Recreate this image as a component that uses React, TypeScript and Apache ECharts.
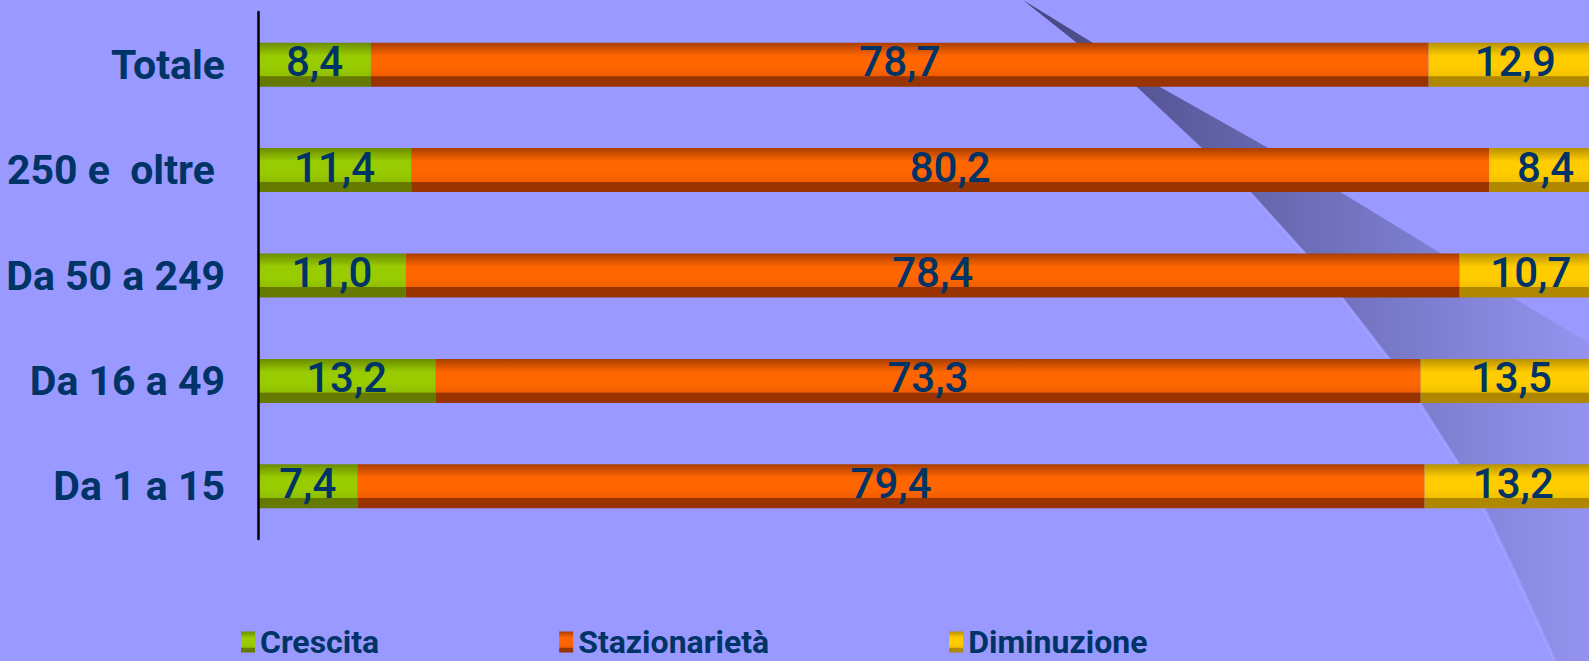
import React, { useEffect, useRef } from "react";
import * as echarts from "echarts";

const categories = ["Totale", "250 e  oltre ", "Da 50 a 249", "Da 16 a 49", "Da 1 a 15"];
const seriesNames = ["Crescita", "Stazionarietà", "Diminuzione"];
const crescita = [8.4, 11.4, 11.0, 13.2, 7.4];
const stazionarieta = [78.7, 80.2, 78.4, 73.3, 79.4];
const diminuzione = [12.9, 8.4, 10.7, 13.5, 13.2];

const FONT = "Roboto, 'Liberation Sans', sans-serif";
const NAVY = "#003366";

const swooshLeft = [
  [1023, 0], [1077, 43], [1137, 87], [1203, 149], [1252, 193], [1307, 254],
  [1342, 296], [1390, 358], [1420, 401], [1460, 464], [1485, 507], [1520, 580], [1557, 661],
];
const swooshRight = [
  [1023, 0], [1093, 43], [1160, 87], [1270, 149], [1342, 193], [1442, 254],
  [1510, 296], [1589, 343],
];

function barGradient(top: string, bright: string, mid: string, strip: string) {
  return new echarts.graphic.LinearGradient(0, 0, 0, 1, [
    { offset: 0, color: top },
    { offset: 0.3, color: bright },
    { offset: 0.55, color: bright },
    { offset: 0.76, color: mid },
    { offset: 0.77, color: strip },
    { offset: 1, color: strip },
  ]);
}

export default function App() {
  const ref = useRef<HTMLDivElement>(null);
  useEffect(() => {
    if (!ref.current) return;
    const chart = echarts.init(ref.current, null, { renderer: "svg" });
    const fmt = (p: any) => Number(p.value).toFixed(1).replace(".", ",");
    const label = {
      show: true,
      position: "inside",
      formatter: fmt,
      color: NAVY,
      fontSize: 42,
      fontWeight: 500,
      fontFamily: FONT,
      offset: [0, -3],
    };
    const colors = [
      barGradient("#6b8c00", "#99cc00", "#8fbf00", "#667a00"),
      barGradient("#a83e00", "#ff6600", "#f05e00", "#993300"),
      barGradient("#b89200", "#ffcc00", "#f2c200", "#b08800"),
    ];
    const dataSets = [crescita, stazionarieta, diminuzione];
    const swooshPoly = [
      ...swooshRight,
      [1589, 661],
      ...swooshLeft.slice().reverse(),
    ];
    const highlight = swooshLeft.map(([x, y]) => [x - 3, y]);
    chart.setOption({
      animation: false,
      backgroundColor: "#9999ff",
      graphic: [
        {
          type: "polygon",
          silent: true,
          z: -10,
          shape: { points: swooshPoly },
          style: {
            fill: new echarts.graphic.LinearGradient(0, 0, 1, 0, [
              { offset: 0, color: "#45457f" },
              { offset: 1, color: "#9494f0" },
            ]),
          },
        },
        {
          type: "polyline",
          silent: true,
          z: -9,
          shape: { points: highlight.slice(3) },
          style: { stroke: "#a9a9ff", lineWidth: 1, fill: null },
        },
      ],
      grid: {
        left: 258,
        right: -13,
        top: 12,
        bottom: 122,
        containLabel: false,
        outerBoundsMode: "none",
      },
      xAxis: {
        type: "value",
        min: 0,
        max: 100,
        show: false,
      },
      yAxis: {
        type: "category",
        data: categories,
        inverse: true,
        axisLine: { show: true, lineStyle: { color: "#000000", width: 2.5 } },
        axisTick: { show: false },
        axisLabel: {
          color: NAVY,
          fontSize: 41,
          fontWeight: "bold",
          fontFamily: FONT,
          margin: 33,
          padding: [0, 0, 6, 0],
        },
        z: 5,
      },
      legend: {
        data: seriesNames,
        left: 236,
        top: 621,
        padding: 5,
        itemGap: 180,
        itemWidth: 14,
        itemHeight: 21,
        icon: "rect",
        textStyle: { color: NAVY, fontSize: 32, fontWeight: "bold", fontFamily: FONT },
      },
      series: seriesNames.map((name, i) => ({
        name,
        type: "bar",
        stack: "total",
        barWidth: 44,
        data: dataSets[i],
        itemStyle: { color: colors[i] },
        label,
      })),
    });
    return () => chart.dispose();
  }, []);
  return (
    <div
      ref={ref}
      style={{ position: "fixed", left: 0, top: 0, width: 1589, height: 661 }}
    />
  );
}
